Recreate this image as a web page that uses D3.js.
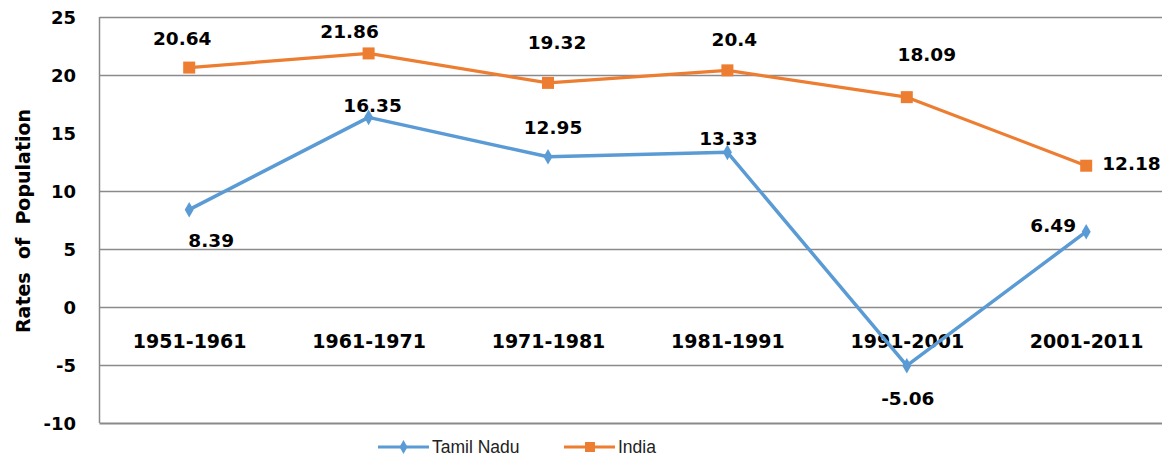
<!DOCTYPE html>
<html>
<head>
<meta charset="utf-8">
<script src="https://cdn.jsdelivr.net/npm/d3@7"></script>
<style>
  body { margin: 0; background: #fff; }
  svg { display: block; }
</style>
</head>
<body>
<script>
// Chart values
var categories = ["1951-1961", "1961-1971", "1971-1981", "1981-1991", "1991-2001", "2001-2011"];
var tamilNadu = [8.39, 16.35, 12.95, 13.33, -5.06, 6.49];
var india = [20.64, 21.86, 19.32, 20.4, 18.09, 12.18];
var yTicks = [25, 20, 15, 10, 5, 0, -5, -10];
var gridValues = [25, 20, 10, 5, 0, -5, -10];

// Where each data label sits relative to its point (dx, dy, anchor)
var tnLabelPos = [[22, 31, "middle"], [4, -12, "middle"], [5, -29, "middle"], [1, -14, "middle"], [1, 33, "middle"], [-33, -6, "middle"]];
var inLabelPos = [[-7, -29, "middle"], [-19, -22, "middle"], [9, -40, "middle"], [7, -31, "middle"], [20, -43, "middle"], [16, -2, "start"]];

var svgWidth = 1162;
var svgHeight = 458;

var margin = { top: 17, left: 99.5, bottom: 423 };

var svg = d3.select("body")
    .append("svg")
    .attr("width", svgWidth)
    .attr("height", svgHeight);

// Scales: band centres are 179.4px apart, plot runs past the right edge
var xScale = d3.scalePoint()
    .domain(categories)
    .range([margin.left, margin.left + 179.4 * 6])
    .padding(0.5);

var yScale = d3.scaleLinear()
    .domain([-10, 25])
    .range([margin.bottom, margin.top]);

// Gridlines
svg.append("g")
    .selectAll("line")
    .data(gridValues)
    .enter()
    .append("line")
    .attr("x1", margin.left)
    .attr("x2", svgWidth)
    .attr("y1", d => Math.round(yScale(d)) + 0.5)
    .attr("y2", d => Math.round(yScale(d)) + 0.5)
    .attr("stroke", "#8a8a8a")
    .attr("stroke-width", d => d === -10 ? 2 : 1.5);

// Left border
svg.append("line")
    .attr("x1", margin.left)
    .attr("x2", margin.left)
    .attr("y1", yScale(25))
    .attr("y2", yScale(-10))
    .attr("stroke", "#8a8a8a")
    .attr("stroke-width", 1.5);

// Y axis tick labels (plain hyphen for negatives)
var leftAxis = d3.axisLeft(yScale)
    .tickValues(yTicks)
    .tickFormat(d => String(d))
    .tickSize(0)
    .tickPadding(0);
var yAxisG = svg.append("g")
    .attr("transform", "translate(76,0)")
    .call(leftAxis);
yAxisG.select(".domain").remove();
yAxisG.selectAll("text")
    .attr("font-family", "DejaVu Sans")
    .attr("font-weight", "bold")
    .attr("font-size", 18)
    .attr("fill", "#000")
    .attr("dy", "0.36em");

// Category labels, sitting under the zero line
var bottomAxis = d3.axisBottom(xScale).tickSize(0).tickPadding(0);
var xAxisG = svg.append("g")
    .attr("transform", `translate(0, ${yScale(0)})`)
    .call(bottomAxis);
xAxisG.select(".domain").remove();
xAxisG.selectAll("text")
    .attr("font-family", "DejaVu Sans")
    .attr("font-weight", "bold")
    .attr("font-size", 19)
    .attr("fill", "#000")
    .attr("dy", "41px");

// Y axis title
svg.append("text")
    .attr("transform", "translate(23, 221) rotate(-90)")
    .attr("text-anchor", "middle")
    .attr("dominant-baseline", "central")
    .attr("font-family", "DejaVu Sans")
    .attr("font-weight", "bold")
    .attr("font-size", 19)
    .attr("fill", "#000")
    .style("white-space", "pre")
    .text("Rates  of  Population");

var line = d3.line()
    .x((d, i) => xScale(categories[i]))
    .y(d => yScale(d));

var tnColor = "#5b9bd5";
var inColor = "#ed7d31";

// India series
svg.append("path")
    .datum(india)
    .attr("d", line)
    .attr("fill", "none")
    .attr("stroke", inColor)
    .attr("stroke-width", 3.2)
    .attr("stroke-linejoin", "round");

svg.append("g")
    .selectAll("rect")
    .data(india)
    .enter()
    .append("rect")
    .attr("x", (d, i) => xScale(categories[i]) - 6)
    .attr("y", d => yScale(d) - 6)
    .attr("width", 12)
    .attr("height", 12)
    .attr("fill", inColor);

// Tamil Nadu series
svg.append("path")
    .datum(tamilNadu)
    .attr("d", line)
    .attr("fill", "none")
    .attr("stroke", tnColor)
    .attr("stroke-width", 3.5)
    .attr("stroke-linejoin", "round");

var diamond = d3.symbol().type(d3.symbolDiamond).size(70);
svg.append("g")
    .selectAll("path")
    .data(tamilNadu)
    .enter()
    .append("path")
    .attr("d", diamond)
    .attr("transform", (d, i) => `translate(${xScale(categories[i])}, ${yScale(d)})`)
    .attr("fill", tnColor);

// Data labels
function addLabels(values, pos) {
  svg.append("g")
      .selectAll("text")
      .data(values)
      .enter()
      .append("text")
      .attr("x", (d, i) => xScale(categories[i]) + pos[i][0])
      .attr("y", (d, i) => yScale(d) + pos[i][1])
      .attr("text-anchor", (d, i) => pos[i][2])
      .attr("dominant-baseline", "central")
      .attr("font-family", "DejaVu Sans")
      .attr("font-weight", "bold")
      .attr("font-size", 18.5)
      .attr("fill", "#000")
      .text(d => d);
}
addLabels(india, inLabelPos);
addLabels(tamilNadu, tnLabelPos);

// Legend
var legendItems = [
  { name: "Tamil Nadu", color: tnColor, x: 378, shape: "diamond" },
  { name: "India", color: inColor, x: 564, shape: "square" }
];
var legendY = 447;
var legend = svg.append("g");
legendItems.forEach(function (item) {
  legend.append("line")
      .attr("x1", item.x)
      .attr("x2", item.x + 51)
      .attr("y1", legendY)
      .attr("y2", legendY)
      .attr("stroke", item.color)
      .attr("stroke-width", 3);
  if (item.shape === "diamond") {
    legend.append("path")
        .attr("d", d3.symbol().type(d3.symbolDiamond).size(55))
        .attr("transform", `translate(${item.x + 25.5}, ${legendY})`)
        .attr("fill", item.color);
  } else {
    legend.append("rect")
        .attr("x", item.x + 21)
        .attr("y", legendY - 5)
        .attr("width", 10)
        .attr("height", 10)
        .attr("fill", item.color);
  }
  legend.append("text")
      .attr("x", item.x + 54)
      .attr("y", legendY)
      .attr("dominant-baseline", "central")
      .attr("font-family", "Liberation Sans")
      .attr("font-size", 17.5)
      .attr("fill", "#222")
      .text(item.name);
});
</script>
</body>
</html>
